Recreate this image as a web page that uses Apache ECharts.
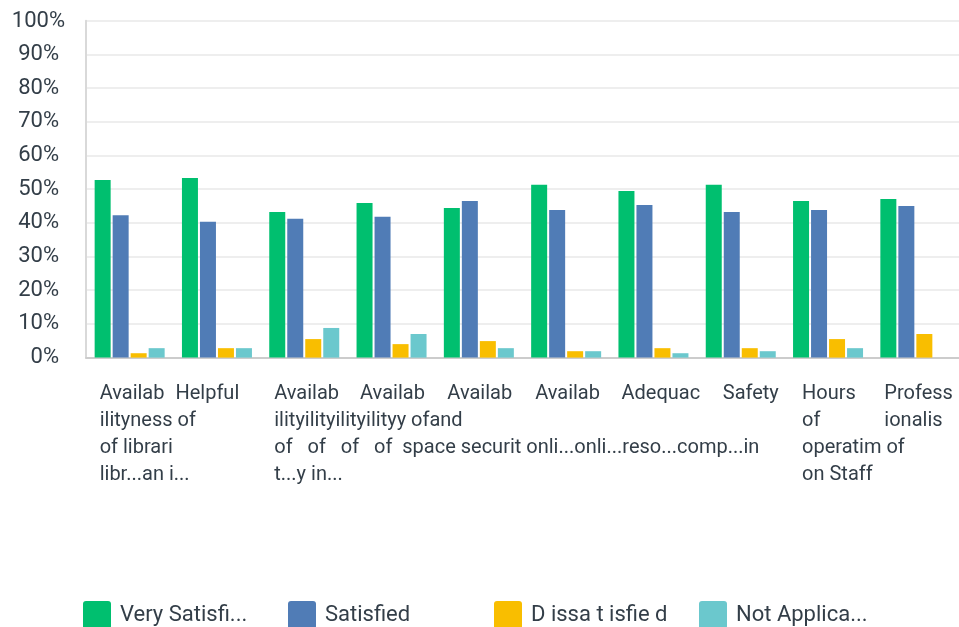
<!DOCTYPE html>
<html>
<head>
<meta charset="utf-8">
<script src="https://cdn.jsdelivr.net/npm/echarts@6/dist/echarts.min.js"></script>
<style>
  html, body { margin: 0; padding: 0; background: #ffffff; }
  #chart { width: 959px; height: 627px; }
</style>
</head>
<body>
<div id="chart"></div>
<script>
// Survey satisfaction, share of responses per service area (percent)
const seriesNames = ['Very Satisfi...', 'Satisfied', 'D issa t isfie d', 'Not Applica...'];

// Category label text, line by line, as it is printed under each group
const categoryLines = [
  ['Availab', 'ilityness of', 'of librari', 'libr...an i...'],
  ['Helpful'],
  ['Availab', 'ilityilityilityilityy ofand', 'of   of   of   of  space securit onli...onli...reso...comp...in', 't...y in...'],
  ['Availab'],
  ['Availab'],
  ['Availab'],
  ['Adequac'],
  ['Safety'],
  ['Hours', 'of', 'operatim of', 'on Staff'],
  ['Profess', 'ionalis']
];
const categories = categoryLines.map(lines => lines.join(' '));

const verySatisfied = [52.7, 53.3, 43.2, 45.9, 44.4, 51.3, 49.5, 51.3, 46.5, 47.1];
const satisfied     = [42.3, 40.3, 41.2, 41.8, 46.5, 43.8, 45.3, 43.2, 43.8, 45.0];
const dissatisfied  = [1.3, 2.8, 5.5, 4.0, 4.9, 1.9, 2.8, 2.8, 5.5, 7.0];
const notApplicable = [2.8, 2.8, 8.8, 7.0, 2.8, 1.9, 1.3, 1.9, 2.8, 0];

// Presentation
const FONT = 'Roboto, "Noto Sans", sans-serif';
const TEXT = '#333e48';
const COLORS = ['#00bf6f', '#507cb6', '#f9be00', '#6bc8cd'];
// horizontal start of each label block, relative to its category centre (px)
const labelShift = [-30, -41.5, -30, -31.5, -31.5, -31, -32, -18, -26, -31];
const LABEL_BOX = 120;
const legendLeft = [83, 288, 494, 699];
const ICON = 'path://M3,0H25A3,3,0,0,1,28,3V25A3,3,0,0,1,25,28H3A3,3,0,0,1,0,25V3A3,3,0,0,1,3,0Z';

const rich = {};
labelShift.forEach((s, i) => {
  rich['c' + i] = {
    align: 'left',
    fontFamily: FONT,
    fontSize: 20,
    lineHeight: 27,
    color: TEXT,
    padding: [0, 0, 0, LABEL_BOX / 2 + s]
  };
});

const chart = echarts.init(document.getElementById('chart'), null, { renderer: 'canvas' });

chart.setOption({
  animation: false,
  backgroundColor: '#ffffff',
  grid: { left: 86, top: 20.8, width: 877, height: 336.8, containLabel: false },
  legend: seriesNames.map((name, i) => ({
    data: [name],
    left: legendLeft[i],
    top: 601,
    padding: 0,
    itemWidth: 28,
    itemHeight: 28,
    icon: ICON,
    selectedMode: false,
    textStyle: { fontFamily: FONT, fontSize: 22, color: TEXT, padding: [0, 0, 0, 4] }
  })),
  xAxis: {
    type: 'category',
    data: categories,
    axisTick: { show: false },
    axisLine: { lineStyle: { color: '#cccccc', width: 2 } },
    axisLabel: {
      interval: 0,
      margin: 23,
      align: 'center',
      width: LABEL_BOX,
      overflow: 'none',
      formatter: (value, index) =>
        categoryLines[index].map(line => '{c' + index + '|' + line + '}').join('\n'),
      rich: rich
    }
  },
  yAxis: {
    type: 'value',
    min: 0,
    max: 100,
    interval: 10,
    axisLine: { show: true, lineStyle: { color: '#d9d9d9', width: 2 } },
    axisTick: { show: false },
    splitLine: { lineStyle: { color: '#eeeeee', width: 2 } },
    axisLabel: {
      margin: 21,
      formatter: v => v === 100 ? '{h|' + v + '%}' : '{n|' + v + '%}',
      rich: {
        h: { fontFamily: FONT, fontSize: 22, color: TEXT, padding: [2, 0, 0, 0] },
        n: { fontFamily: FONT, fontSize: 22, color: TEXT, padding: [0, 6, 0, 0] }
      }
    }
  },
  series: [verySatisfied, satisfied, dissatisfied, notApplicable].map((values, i) => ({
    name: seriesNames[i],
    type: 'bar',
    data: values,
    barWidth: 16,
    barGap: '12.5%',
    itemStyle: { color: COLORS[i] }
  }))
});
</script>
</body>
</html>
